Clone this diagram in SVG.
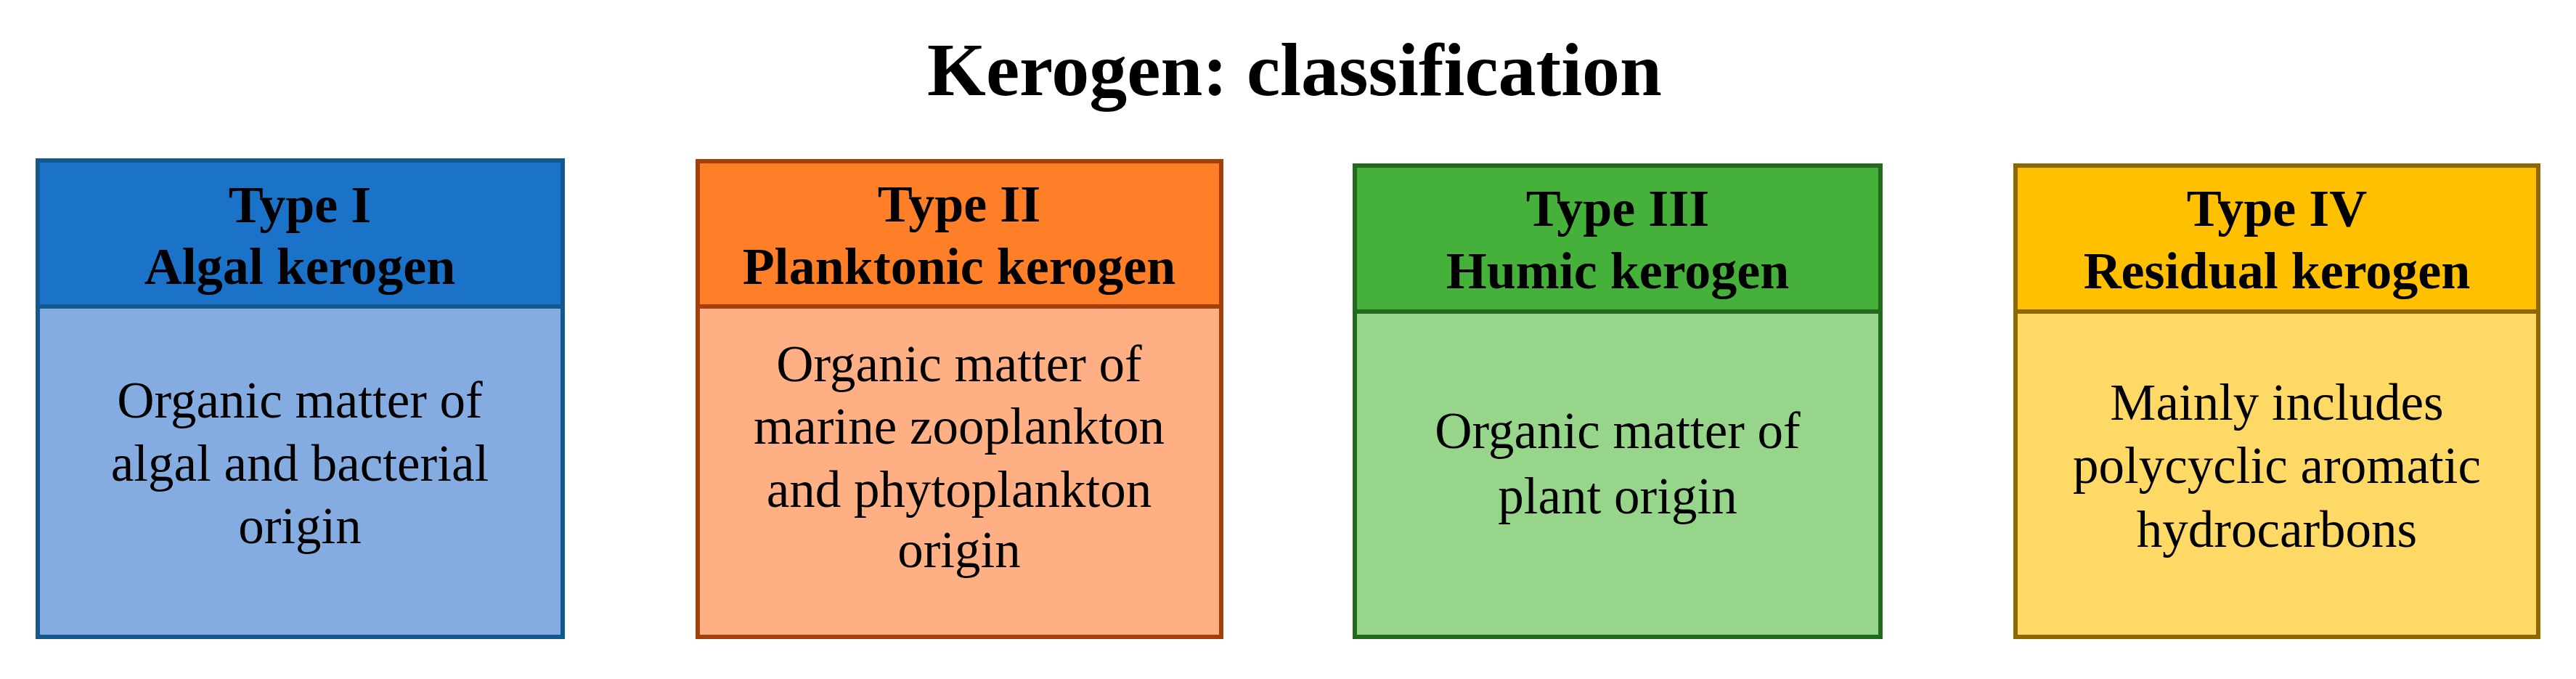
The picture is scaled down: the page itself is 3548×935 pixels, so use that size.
<svg xmlns="http://www.w3.org/2000/svg" width="3548" height="935" viewBox="0 0 3548 935">
<style>
text{font-family:"Liberation Serif","Times New Roman",serif;fill:#000;text-anchor:middle}
.title{font-size:104px;font-weight:bold}
.hd{font-size:72px;font-weight:bold}
.bd{font-size:71px}
.box{stroke-width:6}
</style>
<rect width="3548" height="935" fill="#ffffff"/>
<text class="title" x="1783" y="131">Kerogen: classification</text>
<g id="type1">
<rect x="52" y="221" width="723" height="201" fill="#1A73C9" stroke="#14598E" class="box"/>
<rect x="52" y="422" width="723" height="455" fill="#85ACE0" stroke="#14598E" class="box"/>
<text class="hd" x="413" y="306">Type I</text>
<text class="hd" x="413" y="391">Algal kerogen</text>
<text class="bd" x="413" y="575">Organic matter of</text>
<text class="bd" x="413" y="662">algal and bacterial</text>
<text class="bd" x="413" y="748">origin</text>
</g>
<g id="type2">
<rect x="961" y="222" width="721" height="200" fill="#FE7F27" stroke="#A3400C" class="box"/>
<rect x="961" y="422" width="721" height="455" fill="#FEB084" stroke="#A3400C" class="box"/>
<text class="hd" x="1321" y="305">Type II</text>
<text class="hd" x="1321" y="391">Planktonic kerogen</text>
<text class="bd" x="1321" y="525">Organic matter of</text>
<text class="bd" x="1321" y="611">marine zooplankton</text>
<text class="bd" x="1321" y="698">and phytoplankton</text>
<text class="bd" x="1321" y="781">origin</text>
</g>
<g id="type3">
<rect x="1866" y="228" width="724" height="201" fill="#45B03A" stroke="#226A1D" class="box"/>
<rect x="1866" y="429" width="724" height="448" fill="#96D58A" stroke="#226A1D" class="box"/>
<text class="hd" x="2228" y="311">Type III</text>
<text class="hd" x="2228" y="397">Humic kerogen</text>
<text class="bd" x="2228" y="617">Organic matter of</text>
<text class="bd" x="2228" y="707">plant origin</text>
</g>
<g id="type4">
<rect x="2776" y="228" width="720" height="201" fill="#FFC000" stroke="#8F6700" class="box"/>
<rect x="2776" y="429" width="720" height="448" fill="#FFD966" stroke="#8F6700" class="box"/>
<text class="hd" x="3136" y="311">Type IV</text>
<text class="hd" x="3136" y="397">Residual kerogen</text>
<text class="bd" x="3136" y="578">Mainly includes</text>
<text class="bd" x="3136" y="665">polycyclic aromatic</text>
<text class="bd" x="3136" y="753">hydrocarbons</text>
</g>
<g id="connectors"></g>
</svg>
